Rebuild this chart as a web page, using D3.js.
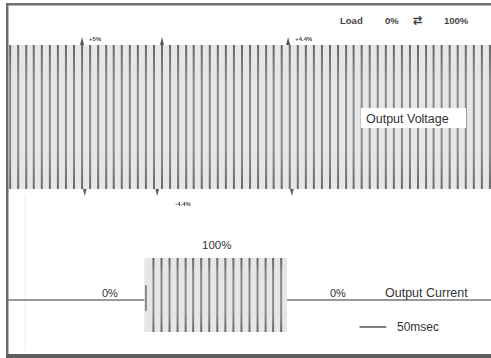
<!DOCTYPE html>
<html>
<head>
<meta charset="utf-8">
<script src="https://cdn.jsdelivr.net/npm/d3@7"></script>
<style>
  body { margin: 0; background: #fff; }
  svg { display: block; font-family: "Liberation Sans", Arial, sans-serif; }
</style>
</head>
<body>
<script>
// time in msec, amplitudes in % of full swing
var voltagePeaks = [4, 19, 34, 48, 63, 78, 93, 108, 123, 138, 153, 168, 183, 197, 212,
  227, 242, 257, 272, 287, 302, 317, 332, 346, 361, 376, 391, 406, 421, 436, 451,
  466, 481, 495, 510, 525, 540, 555, 570, 585, 600, 615, 630, 644, 659, 674, 689,
  704, 719, 734, 749, 764, 779, 793, 808, 823, 838, 853, 868, 883, 898];
var voltageAmps = [100, 100]; // start / end of trace, no visible sag

var currentPeaks = [257, 271, 286, 301, 316, 331, 345, 360, 375, 390, 405, 420, 435, 450, 465, 480, 494, 509];
var currentAmps = [35, 100, 100, 100, 100, 100, 100, 100, 100, 100, 100, 100, 100, 100, 100, 100, 100, 100];
var currentStart = 254, currentEnd = 520;

var topMarkers = [{t: 138, label: '+5%'}, {t: 287, label: ''}, {t: 522, label: '+4.4%'}];
var bottomMarkers = [{t: 143, label: ''}, {t: 278, label: '-4.4%'}, {t: 529, label: ''}];

var loadLabels = ['Load', '0%', '\u21C4', '100%'];
var currentLabels = [{t: 175, text: '0%'}, {t: 600, text: '0%'}];

var W = 491, H = 358;

var svg = d3.select('body').append('svg')
  .attr('width', W)
  .attr('height', H);

var defs = svg.append('defs');
defs.append('filter').attr('id', 'soft')
  .append('feGaussianBlur').attr('stdDeviation', 0.6);

function addGrad(id, y1, y2) {
  var g = defs.append('linearGradient').attr('id', id)
    .attr('gradientUnits', 'userSpaceOnUse')
    .attr('x1', 0).attr('x2', 0).attr('y1', y1).attr('y2', y2);
  g.append('stop').attr('offset', '0%').attr('stop-color', '#666');
  g.append('stop').attr('offset', '25%').attr('stop-color', '#8a8a8a');
  g.append('stop').attr('offset', '75%').attr('stop-color', '#8a8a8a');
  g.append('stop').attr('offset', '100%').attr('stop-color', '#6a6a6a');
}

var x = d3.scaleLinear().domain([0, 900]).range([8, 491]);
var yV = d3.scaleLinear().domain([-100, 100]).range([189, 45]);
var yI = d3.scaleLinear().domain([-100, 100]).range([332, 258]);
// current zero sits at y=300 on the page
var yI0 = 300;
function yCur(v) {
  return v >= 0 ? yI0 - (yI0 - yI(100)) * v / 100 : yI0 + (yI(-100) - yI0) * (-v) / 100;
}

addGrad('gv', yV(100), yV(-100));
addGrad('gi', yCur(100), yCur(-100));

// frame
svg.append('rect').attr('x', 6).attr('y', 3).attr('width', W).attr('height', 2.5).attr('fill', '#6e6e6e');
svg.append('rect').attr('x', 6).attr('y', 3).attr('width', 2.5).attr('height', H).attr('fill', '#6e6e6e');
svg.append('rect').attr('x', 6).attr('y', 354).attr('width', W).attr('height', 4).attr('fill', '#5e5e5e');

// faint scan lines
svg.append('line').attr('x1', 25).attr('x2', 25).attr('y1', 195).attr('y2', 350)
  .attr('stroke', '#eee').attr('stroke-width', 1);

// ---- output voltage ----
var volt = svg.append('g').attr('class', 'voltage').attr('filter', 'url(#soft)');

volt.append('rect')
  .attr('x', x(0) + 1)
  .attr('y', yV(voltageAmps[0]))
  .attr('width', x(900) - x(0))
  .attr('height', yV(-voltageAmps[1]) - yV(voltageAmps[0]))
  .attr('fill', '#e6e6e6');

volt.selectAll('line.cyc')
    .data(voltagePeaks)
  .enter()
    .append('line')
    .attr('class', 'cyc')
    .attr('x1', function(d) { return x(d); })
    .attr('x2', function(d) { return x(d); })
    .attr('y1', yV(100))
    .attr('y2', yV(-100))
    .attr('stroke', 'url(#gv)')
    .attr('stroke-width', 2);

// markers
volt.selectAll('path.top')
    .data(topMarkers)
  .enter()
    .append('path')
    .attr('d', function(d) {
      var cx = x(d.t);
      return 'M' + (cx - 2) + ',45 L' + cx + ',37 L' + (cx + 2) + ',45 Z';
    })
    .attr('fill', '#555');

volt.selectAll('text.top')
    .data(topMarkers.filter(function(d) { return d.label; }))
  .enter()
    .append('text')
    .attr('x', function(d) { return x(d.t) + 7; })
    .attr('y', 41)
    .attr('font-size', 6)
    .attr('font-weight', 'bold')
    .attr('fill', '#444')
    .text(function(d) { return d.label; });

volt.selectAll('path.bot')
    .data(bottomMarkers)
  .enter()
    .append('path')
    .attr('d', function(d) {
      var cx = x(d.t);
      return 'M' + (cx - 2) + ',189 L' + cx + ',196 L' + (cx + 2) + ',189 Z';
    })
    .attr('fill', '#666');

volt.selectAll('text.bot')
    .data(bottomMarkers.filter(function(d) { return d.label; }))
  .enter()
    .append('text')
    .attr('x', function(d) { return x(d.t) + 18; })
    .attr('y', 206)
    .attr('font-size', 6)
    .attr('font-weight', 'bold')
    .attr('fill', '#444')
    .text(function(d) { return d.label; });

// label box
svg.append('rect')
  .attr('x', 361).attr('y', 108).attr('width', 105).attr('height', 20)
  .attr('fill', '#fff');
svg.append('text')
  .attr('x', 366).attr('y', 123)
  .attr('font-size', 12.5)
  .attr('fill', '#333')
  .text('Output Voltage');

// load legend
var loadX = [340, 385, 413, 444];
svg.selectAll('text.load')
    .data(loadLabels)
  .enter()
    .append('text')
    .attr('class', 'load')
    .attr('x', function(d, i) { return loadX[i]; })
    .attr('y', 24)
    .attr('font-size', function(d, i) { return i === 2 ? 11 : 9.5; })
    .attr('font-weight', 'bold')
    .attr('fill', '#444')
    .text(function(d) { return d; });

// ---- output current ----
var cur = svg.append('g').attr('class', 'current');

cur.append('line')
  .attr('x1', x(0)).attr('x2', x(900))
  .attr('y1', yI0).attr('y2', yI0)
  .attr('stroke', '#777').attr('stroke-width', 1.5);

var burst = cur.append('g').attr('filter', 'url(#soft)');

burst.append('rect')
  .attr('x', x(currentStart))
  .attr('y', yCur(100))
  .attr('width', x(currentEnd) - x(currentStart))
  .attr('height', yCur(-100) - yCur(100))
  .attr('fill', '#e6e6e6');

burst.selectAll('line.cyc')
    .data(currentPeaks)
  .enter()
    .append('line')
    .attr('class', 'cyc')
    .attr('x1', function(d) { return x(d); })
    .attr('x2', function(d) { return x(d); })
    .attr('y1', function(d, i) { return yCur(currentAmps[i]); })
    .attr('y2', function(d, i) { return yCur(-currentAmps[i]); })
    .attr('stroke', 'url(#gi)')
    .attr('stroke-width', 2);

cur.selectAll('text.pct')
    .data(currentLabels)
  .enter()
    .append('text')
    .attr('x', function(d) { return x(d.t); })
    .attr('y', 297)
    .attr('font-size', 11)
    .attr('fill', '#333')
    .text(function(d) { return d.text; });

cur.append('text')
  .attr('x', 202).attr('y', 249)
  .attr('font-size', 11.5)
  .attr('fill', '#333')
  .text('100%');

cur.append('text')
  .attr('x', 385).attr('y', 297)
  .attr('font-size', 12.5)
  .attr('fill', '#333')
  .text('Output Current');

// 50 msec scale bar
cur.append('line')
  .attr('x1', x(655)).attr('x2', x(705))
  .attr('y1', 327).attr('y2', 327)
  .attr('stroke', '#555').attr('stroke-width', 1.5);
cur.append('text')
  .attr('x', 397).attr('y', 331)
  .attr('font-size', 12)
  .attr('fill', '#333')
  .text('50msec');
</script>
</body>
</html>
